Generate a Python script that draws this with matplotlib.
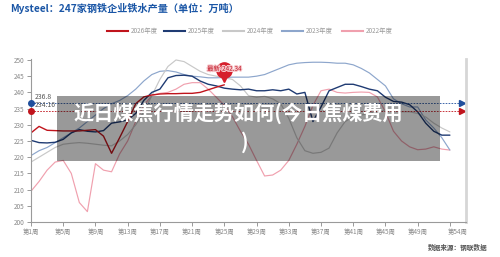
import numpy as np
import matplotlib
matplotlib.use("Agg")
import matplotlib.pyplot as plt
import matplotlib.patches as mpatches
import matplotlib.patheffects as pe
from matplotlib.transforms import ScaledTranslation

plt.rcParams['font.family'] = ['Noto Sans CJK SC', 'DejaVu Sans']

# weekly values (万吨)
y2026 = [227.5, 229.5, 228.3, 228.2, 228.1, 228.1, 228.1, 228.3, 228.5, 226.5,
         221.2, 226.0, 231.0, 236.5, 238.6, 239.2, 239.5, 239.6, 239.6, 239.7,
         239.7, 240.0, 240.8, 241.6, 242.34]
y2025 = [225.2, 224.5, 224.4, 224.6, 225.5, 227.5, 228.5, 228.0, 227.8, 228.2,
         230.5, 230.9, 231.5, 233.5, 237.5, 240.0, 241.0, 244.5, 245.2, 245.3,
         245.0, 243.5, 242.5, 242.0, 241.3, 241.0, 240.8, 241.0, 240.5, 240.5,
         240.8, 240.5, 241.0, 239.5, 240.0, 231.0, 235.5, 240.5, 241.5, 242.5,
         242.5, 241.8, 241.0, 240.5, 238.5, 237.2, 237.0, 236.2, 234.0, 230.5,
         228.0, 226.8, 226.8]
y2024 = [218.5, 220.0, 221.5, 223.0, 224.0, 224.3, 224.5, 224.3, 224.0, 223.7,
         223.5, 225.0, 227.0, 230.0, 234.0, 239.0, 244.0, 248.0, 250.0, 249.5,
         248.0, 246.5, 245.5, 245.0, 244.5, 244.0, 242.0, 239.0, 238.5, 238.8,
         238.0, 236.5, 232.0, 226.0, 222.0, 221.2, 221.5, 222.8, 227.5, 231.0,
         232.5, 233.0, 233.5, 234.0, 234.5, 234.5, 234.0, 234.0, 233.5, 232.4,
         230.5, 229.0, 227.8]
y2023 = [220.5, 222.0, 223.0, 224.5, 226.0, 227.5, 229.0, 231.0, 233.0, 235.0,
         236.5, 237.5, 239.0, 241.0, 243.5, 245.5, 246.5, 246.7, 246.3, 245.5,
         245.0, 244.8, 244.5, 244.5, 244.6, 244.7, 244.7, 244.7, 245.0, 245.5,
         246.5, 247.5, 248.5, 249.0, 249.2, 249.3, 249.3, 249.2, 249.0, 249.0,
         248.5, 247.4, 246.0, 244.0, 242.0, 238.0, 236.5, 235.5, 235.5, 231.5,
         229.0, 226.0, 222.2]
y2022 = [209.5, 212.5, 216.0, 218.5, 219.0, 215.0, 206.0, 203.2, 218.0, 216.0,
         215.5, 221.0, 225.0, 231.0, 236.0, 239.0, 239.7, 240.0, 241.0, 242.5,
         243.0, 243.0, 241.0, 238.5, 236.0, 232.5, 228.0, 224.0, 219.0, 214.2,
         214.5, 216.0, 219.0, 224.0, 229.5, 236.0, 240.5, 241.0, 240.0, 239.8,
         240.0, 240.1, 240.0, 238.6, 234.0, 228.0, 225.0, 223.2, 222.3, 222.5,
         223.2, 222.5, 222.2]

series = [("2026年度", y2026, "#c0141c", 1.0),
          ("2025年度", y2025, "#1f3b73", 1.0),
          ("2024年度", y2024, "#c8c8c8", 0.85),
          ("2023年度", y2023, "#8da6cc", 0.85),
          ("2022年度", y2022, "#f0a0ae", 0.85)]

avg_2025 = 236.8
avg_2026 = 234.16
latest = 242.34

tick_weeks = [1, 5, 9, 13, 17, 21, 25, 29, 33, 37, 41, 45, 49]
tick_labels = ["第%d周" % w for w in tick_weeks]

fig = plt.figure(figsize=(5.0, 2.57), dpi=100)
ax = fig.add_axes([31 / 500, 1 - 222 / 257, 435 / 500, 163 / 257])

# draw older years first so the current ones sit on top
for name, vals, col, lw in series[::-1]:
    wk = np.arange(1, len(vals) + 1)
    ax.plot(wk, vals, color=col, lw=lw, solid_capstyle="round", solid_joinstyle="round")

ax.set_xlim(1, 55)
ax.set_ylim(200, 250.3)
ax.set_yticks(np.arange(200, 251, 5))
ax.set_xticks(tick_weeks + [53])
ax.set_xticklabels(tick_labels + [""])
ax.text(54, 198.2, "第54周", ha="center", va="top", fontsize=4.6, color="#888888")

off = ScaledTranslation(4 / 100, 0, fig.dpi_scale_trans)
for lab in ax.get_xticklabels():
    lab.set_transform(lab.get_transform() + off)

ax.tick_params(axis="both", labelsize=4.6, colors="#999999", length=3, width=0.7, pad=1.5)
for lab in ax.get_yticklabels() + ax.get_xticklabels():
    lab.set_color("#888888")
ax.spines["top"].set_visible(False)
ax.spines["left"].set_color("#9a9a9a")
ax.spines["bottom"].set_color("#9a9a9a")
ax.spines["left"].set_linewidth(0.8)
ax.spines["bottom"].set_linewidth(0.8)
ax.spines["right"].set_color("#d6d6d6")
ax.spines["right"].set_linewidth(2)

# average reference lines with arrows
for val, col in [(avg_2025, "#1f4e9c"), (avg_2026, "#c0141c")]:
    ax.plot([1, 54.3], [val, val], color=col, lw=0.6, ls=(0, (2, 1.5)))
    ax.plot([54.5], [val], marker=">", color=col, ms=4.5, clip_on=False)
    ax.plot([1], [val], marker="o", color=col, ms=4, clip_on=False, zorder=5)
ax.text(1.4, avg_2025 + 0.4, "236.8", fontsize=5, color="#555555", va="bottom")
ax.text(1.4, avg_2026 + 0.7, "234.16", fontsize=5, color="#555555", va="bottom")

# latest value pin
ax.plot([25], [244.6], marker="v", color="#d61f2c", ms=7, zorder=6)
ax.plot([25], [247.0], marker="o", color="#d61f2c", ms=11, zorder=6)
ax.text(25, 247.3, "最新-242.34", fontsize=4.6, color="#c01020", ha="center", va="center",
        zorder=7, path_effects=[pe.withStroke(linewidth=1.5, foreground="#f6c8cc")])

# legend drawn by hand in figure pixels
leg_x = [107, 164, 223, 282, 342]
for (name, vals, col, lw), lx in zip(series, leg_x):
    fig.add_artist(plt.Line2D([lx / 500, (lx + 21) / 500], [1 - 31 / 257] * 2,
                              color=col, lw=1.5))
    fig.text((lx + 24) / 500, 1 - 31 / 257, name, fontsize=4.6, color="#999999", va="center")

fig.text(10 / 500, 1 - 8 / 257, "Mysteel：247家钢铁企业铁水产量（单位：万吨）",
         fontsize=7.3, fontweight="bold", color="#1a56a6", va="center")
fig.text(488 / 500, 1 - 247 / 257, "数据来源：钢联数据", fontsize=4.8,
         fontweight="bold", color="#555555", ha="right", va="center")

# translucent grey banner over the chart
box = mpatches.Rectangle((57 / 500, 1 - 161 / 257), 383 / 500, 65 / 257,
                         transform=fig.transFigure, facecolor="black", alpha=0.4,
                         edgecolor="none", zorder=10)
fig.add_artist(box)
fig.text(238 / 500, 1 - 113 / 257, "近日煤焦行情走势如何(今日焦煤费用", fontsize=14.5,
         fontweight="bold", color="white", ha="center", va="center", zorder=11)
fig.text(245 / 500, 1 - 142 / 257, ")", fontsize=14.5, fontweight="bold",
         color="white", ha="center", va="center", zorder=11)

fig.savefig("out.png", dpi=100)
